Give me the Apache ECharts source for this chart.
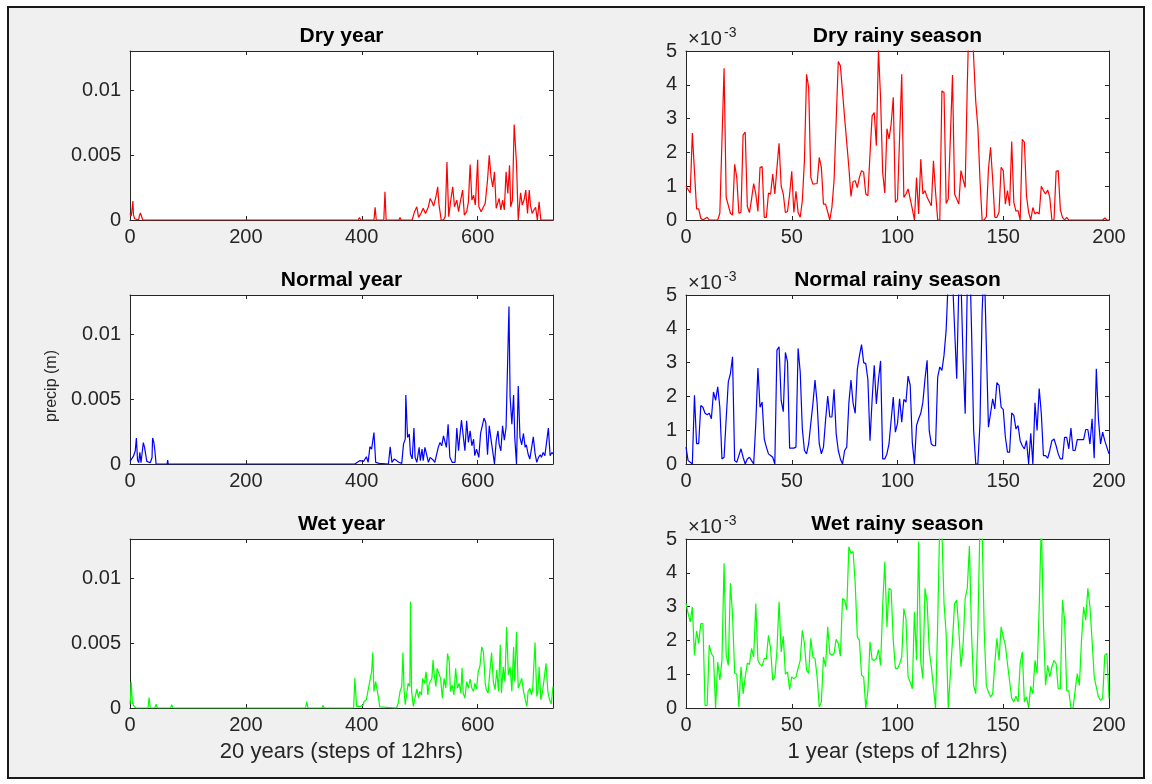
<!DOCTYPE html>
<html>
<head>
<meta charset="utf-8"/>
<title>precip</title>
<script src="https://cdn.jsdelivr.net/npm/echarts@6/dist/echarts.min.js"></script>
<style>
body { margin: 0; background: #fff; }
#chart { width: 1152px; height: 784px; }
</style>
</head>
<body>
<div id="chart"></div>
<script type="text/javascript">

// [step, precip] pairs; left panels in 1e-3 m, right panels in units of 1e-3 (axis shows x10^-3)
var dryYear = [[0,0.5],[2,0.3],[3,0.6],[5,1.45],[6,0.4],[8,0.1],[10,0],[15,0],[16,0.3],[18,0.54],[20,0.4],[22,0],
  [390,0],[392,0.1],[394,0],[396,0.2],[398,0],[421,0],[423,0.97],[425,0],[438,0],[440,2.17],[442,0],[464,0],[466,0.2],[468,0],
  [487,0],[491,0.64],[495,1.02],[498,0.2],[502,0.5],[506,0.9],[510,0.5],[515,1.02],[518,1.66],[521,1.4],[524,1.07],[528,1.79],
  [531,2.55],[533,1.28],[537,0],[541,0],[544,0.26],[547,4.46],[550,0.26],[554,1.66],[557,2.55],[560,1.02],[564,1.53],[567,0.64],
  [570,1.4],[574,2.3],[577,0.38],[581,0.64],[584,1.4],[587,4.26],[590,1.53],[593,1.9],[596,1.15],[600,4.64],[602,1.02],[606,0.64],
  [610,1.02],[613,1.28],[617,3.06],[620,4.97],[623,3.32],[626,2.55],[629,3.7],[632,0.9],[634,0.77],[637,1.66],[640,0.77],[643,1.53],
  [646,0.77],[649,3.7],[652,2.04],[655,4.21],[657,1.02],[660,1.53],[663,7.35],[667,4.34],[670,0],[674,2.09],[677,1.15],[680,1.53],
  [683,2.3],[686,0.5],[689,2.3],[691,1.15],[694,0.5],[697,0.77],[700,0.97],[703,0],[706,1.4],[709,0],[730,0]];

var normalYear = [[0,0.2],[3,0.1],[6,0.6],[9,1.0],[11,2.0],[13,0.3],[15,0.1],[17,0.9],[19,0.1],[21,0.2],[23,1.65],[25,1.3],
  [27,1.4],[29,0.2],[32,0.1],[35,0.1],[38,0.5],[39,2.0],[41,1.7],[43,1.0],[45,0],[64,0],[65,0.3],[66,0],
  [388,0],[391,0.05],[397,0.26],[403,0.2],[408,0.56],[411,0.13],[414,1.33],[417,1.15],[421,2.42],[424,0.13],[430,0.05],[446,0],
  [449,1.33],[452,0.13],[456,0.38],[460,0.26],[464,0.13],[469,0.05],[472,1.53],[475,1.91],[476,5.31],[479,2.04],[482,2.3],[484,0.77],
  [487,0.38],[490,2.76],[492,0.51],[495,0.13],[499,1.28],[501,0.26],[504,1.15],[506,0.26],[509,1.28],[512,1.15],[515,0.13],[518,0.51],
  [521,0.64],[523,0.31],[526,0.13],[529,0.13],[532,1.28],[535,1.66],[538,1.4],[541,2.17],[544,2.3],[546,1.28],[549,3.06],[552,0.51],
  [556,0.13],[561,0.13],[564,2.76],[567,1.02],[569,2.04],[572,3.37],[575,3.27],[578,1.02],[581,3.32],[584,1.66],[587,2.55],[590,1.4],
  [593,1.91],[595,0.64],[598,1.15],[602,0.51],[605,2.35],[608,2.3],[611,3.52],[614,3.19],[617,0.71],[620,2.93],[623,1.91],[626,1.79],
  [629,0],[632,1.79],[635,2.55],[637,1.53],[640,1.02],[643,2.93],[646,1.84],[649,2.81],[651,2.68],[654,12.12],[656,5.15],[659,3.06],
  [662,5.31],[664,2.04],[667,0],[670,6.0],[673,2.04],[676,1.48],[679,2.35],[682,1.28],[684,1.48],[687,0.77],[690,0.38],[693,0.38],
  [696,2.09],[699,0.82],[702,0.13],[705,0.51],[708,0.71],[710,0.51],[713,0.89],[716,0.64],[719,0.51],[722,2.76],[725,0.64],[728,0.89],[730,0.77]];

var wetYear = [[0,0.3],[1,0.8],[2,2.0],[3,1.3],[4,0.3],[5,0.5],[6,0.2],[8,0.1],[10,0],[31,0],[33,0.8],[35,0],[43,0],[45,0.3],[47,0],
  [70,0],[72,0.25],[74,0],[303,0],[305,0.5],[307,0],[331,0],[333,0.2],[335,0],[386,0],[388,2.3],[391,0.13],[397,0.13],[402,0.2],
  [404,0.5],[408,0.64],[411,1.4],[414,1.27],[417,2.79],[419,4.26],[421,1.27],[424,2.03],[426,2.08],[429,0.76],[431,0.08],[434,0.05],
  [460,0],[463,0.38],[466,1.27],[469,1.65],[471,4.26],[473,1.4],[475,0.25],[478,1.27],[480,1.9],[483,1.65],[484,8.17],[486,1.27],
  [489,0.13],[492,0.25],[495,1.47],[498,0.76],[500,1.27],[503,1.0],[505,2.28],[508,1.9],[511,2.79],[514,1.0],[516,1.78],[518,2.03],
  [521,2.28],[523,3.68],[525,2.54],[528,1.65],[530,3.05],[533,2.92],[536,2.28],[539,0.76],[542,2.28],[545,1.52],[548,4.19],[551,3.55],
  [553,1.27],[556,1.78],[559,1.0],[562,3.05],[565,1.52],[568,1.9],[571,1.14],[573,3.1],[575,1.14],[578,0.76],[581,2.03],[584,1.52],
  [587,2.23],[590,1.52],[593,1.27],[595,1.9],[598,1.47],[601,2.79],[604,3.25],[607,4.7],[610,4.31],[613,1.9],[615,1.4],[618,1.14],
  [621,2.79],[624,4.26],[627,2.03],[630,1.4],[633,2.92],[636,1.27],[639,4.87],[641,1.14],[644,3.17],[647,2.03],[650,6.22],[653,2.54],
  [656,3.17],[659,1.27],[662,4.7],[664,2.03],[667,5.84],[670,1.52],[673,1.47],[676,2.28],[679,1.32],[682,0.64],[685,0.13],[687,1.27],
  [690,1.52],[693,1.0],[695,1.52],[699,5.03],[702,0.89],[704,1.27],[706,3.17],[709,0.63],[712,1.27],[715,1.27],[718,3.43],[721,1.32],
  [724,0.63],[727,0.3],[730,1.65]];

var dryRainy = [[0,1.0],[2,0.8],[3,2.57],[5,0.33],[6,0.33],[7,0.05],[8,0],[10,0.08],[11,0],[15,0],[16,0.2],[18,4.49],[19,0.67],
  [21,0.2],[22,0.15],[23,1.65],[24,1.26],[25,0.2],[26,0.23],[27,2.52],[28,2.6],[29,0.4],[30,0.22],[31,0.62],[32,1.08],[33,0.77],
  [34,0.25],[35,1.55],[36,1.58],[37,0.08],[38,0.08],[39,0.8],[40,0.76],[41,1.36],[42,0.77],[43,1.55],[44,2.27],[45,1.0],[46,0.77],
  [47,0.22],[48,0.25],[49,0.77],[50,1.44],[51,0.22],[52,0.85],[53,0.22],[54,0.08],[55,0.57],[56,1.77],[57,4.31],[58,3.92],[59,1.26],
  [60,1.06],[62,1.08],[63,1.85],[64,1.56],[65,0.47],[66,0.47],[68,0],[69,0.38],[70,1.16],[72,4.69],[73,4.56],[75,3.03],[77,1.56],
  [78,0.7],[79,1.14],[80,1.16],[81,0.96],[82,1.26],[83,1.46],[84,1.41],[85,0.77],[86,0.72],[87,1.95],[88,3.08],[89,3.18],[90,2.2],
  [91,5.05],[92,3.6],[93,1.4],[94,0.8],[95,2.7],[96,2.4],[97,2.84],[98,3.63],[99,0.52],[100,0.6],[102,4.31],[103,0.67],[104,0.77],
  [105,0.92],[107,0.33],[108,0],[109,1.26],[110,0.18],[111,1.8],[112,0.77],[113,0.87],[114,0.67],[116,0.42],[117,1.75],[118,0.82],
  [119,0],[120,0],[121,3.82],[122,3.77],[123,0.49],[124,0.62],[126,4.29],[127,0.77],[129,0.47],[130,1.46],[131,1.2],[132,0.96],
  [133,4.0],[134,6.5],[135,6.5],[136,4.8],[137,3.5],[138,2.74],[139,1.2],[140,0],[141,0],[142,0.1],[143,1.5],[144,2.15],[145,1.2],
  [146,0.08],[147,0.08],[148,0.23],[149,1.56],[150,1.46],[151,0.47],[152,0.87],[153,0.42],[154,2.32],[155,0.52],[156,0.26],[157,0.28],
  [158,0],[159,2.39],[160,2.3],[161,0.7],[162,0.23],[163,0],[164,0.37],[165,0.18],[166,0.23],[167,0.18],[168,1.0],[169,0.87],
  [170,0.77],[171,0.89],[172,0.67],[173,0],[174,0],[175,1.44],[176,1.46],[177,0.3],[178,0.08],[179,0],[180,0.08],[181,0],[197,0],
  [198,0.06],[199,0],[200,0]];

var normalRainy = [[0,0.5],[1,0.1],[2,0.05],[3,0],[4,2.03],[5,0.6],[6,0.6],[7,1.73],[8,1.68],[9,1.5],[10,1.46],[11,1.5],[12,1.34],
  [13,2.13],[14,1.88],[15,2.28],[16,1.68],[17,0.15],[18,0.2],[19,1.34],[20,2.43],[21,2.67],[22,3.17],[23,0.1],[24,0.05],[26,0.45],
  [27,0.2],[28,0],[29,0.15],[30,0.2],[31,0.1],[32,0],[33,1.2],[34,2.84],[35,1.68],[36,1.83],[37,0.74],[38,0.5],[39,0.3],[40,0.25],
  [41,0.2],[42,0],[43,3.37],[44,3.47],[45,1.88],[46,1.55],[47,3.3],[48,3.02],[49,0.47],[51,0.47],[52,0.5],[53,3.42],[54,2.72],
  [55,1.04],[56,0.4],[57,0.3],[58,0.6],[59,1.2],[60,1.78],[61,2.48],[62,1.8],[63,0.6],[64,0.3],[65,0.5],[66,1.3],[67,2.01],[68,1.39],
  [69,1.39],[70,2.21],[71,0.9],[72,0.4],[73,0.15],[74,0],[75,0.4],[76,0.5],[77,1.8],[78,2.48],[79,1.8],[80,1.5],[81,2.8],[82,3.2],
  [83,3.53],[84,3.0],[85,2.97],[86,2.5],[87,0.69],[88,1.9],[89,2.92],[90,1.78],[91,2.5],[92,3.05],[93,0.15],[94,0.15],[95,0.3],
  [96,0.6],[97,1.3],[98,1.98],[99,0.94],[100,1.2],[101,1.93],[102,1.24],[103,1.91],[104,1.83],[105,2.6],[106,2.33],[107,0.64],[108,0],
  [109,1.14],[110,1.34],[111,1.5],[112,1.83],[113,2.52],[114,3.07],[115,0.99],[116,0.59],[117,0.54],[118,0.54],[119,2.57],[120,2.87],
  [121,2.77],[122,3.22],[123,3.96],[124,5.5],[125,6.5],[126,5.5],[127,4.0],[128,2.52],[129,5.3],[130,5.5],[131,3.12],[132,1.49],
  [133,5.3],[134,6.5],[135,4.0],[136,1.0],[137,0],[138,0],[139,1.2],[140,4.5],[141,6.0],[142,3.5],[143,1.09],[144,1.5],[145,1.93],
  [146,1.63],[147,2.41],[148,2.33],[149,1.68],[150,1.61],[151,0.8],[152,0.35],[153,0.35],[154,1.51],[155,1.44],[156,1.04],[157,1.14],
  [158,0.69],[159,0.54],[160,0.45],[161,0.69],[162,0],[163,0.91],[164,0],[165,1.81],[166,0.99],[167,2.23],[168,1.49],[169,0.25],
  [170,0.25],[171,0.17],[172,0.4],[173,0.69],[174,0.74],[175,0.54],[176,0.3],[177,0.15],[178,0.15],[179,0.79],[180,0.79],[181,0.45],
  [182,1.06],[183,0.4],[184,0.4],[185,0.72],[187,0.72],[188,0.72],[189,1.02],[190,1.02],[191,0.59],[192,1.34],[193,0.17],[194,2.82],
  [195,1.34],[196,0.59],[197,0.94],[198,0.69],[200,0.3]];

var wetRainy = [[0,3.1],[1,2.8],[2,2.55],[3,2.99],[4,1.56],[5,2.28],[6,1.91],[7,2.5],[8,2.5],[9,0.08],[10,0.08],[11,1.86],[12,1.61],
  [13,1.51],[14,0],[15,1.36],[16,0.82],[17,1.41],[18,4.28],[19,1.56],[20,1.26],[21,3.69],[22,2.75],[23,1.04],[24,1.0],[25,0.03],
  [26,1.22],[27,0.42],[28,0.92],[29,1.33],[30,1.29],[31,1.76],[32,1.51],[33,3.09],[34,1.41],[35,1.29],[36,1.24],[37,1.46],[38,1.46],
  [39,2.15],[40,1.76],[41,0.82],[42,0.92],[43,1.71],[44,3.14],[45,1.66],[46,2.12],[47,1.0],[48,1.07],[49,0.54],[50,0.92],[51,0.87],
  [52,0.92],[53,1.17],[54,1.41],[55,2.3],[56,1.91],[57,1.12],[58,1.02],[59,2.06],[60,1.51],[61,1.46],[62,0.92],[63,0.03],[64,0.18],
  [65,1.51],[66,1.22],[67,2.4],[68,1.61],[69,1.56],[70,1.61],[71,2.03],[72,1.91],[73,1.53],[74,3.24],[75,3.19],[76,2.9],[77,4.77],
  [78,4.58],[79,4.63],[80,3.69],[81,2.1],[82,2.0],[83,0.97],[84,0.92],[85,0],[86,0.5],[87,1.96],[88,1.43],[89,1.41],[90,1.46],
  [91,1.73],[92,1.26],[93,3.04],[94,4.33],[95,2.4],[96,3.54],[97,3.49],[98,2.0],[99,1.17],[100,1.17],[101,1.3],[102,1.51],[103,2.94],
  [104,2.65],[105,0.92],[106,0.77],[107,0.57],[108,2.85],[109,1.41],[110,4.92],[111,1.36],[112,0.87],[113,3.54],[114,3.14],[115,1.71],
  [116,1.22],[117,0.6],[118,0],[119,2.5],[120,5.6],[121,5.2],[122,3.09],[123,2.2],[124,0],[125,1.0],[126,2.0],[127,3.09],[128,3.19],
  [129,2.3],[130,1.22],[131,1.86],[132,3.24],[133,3.54],[134,4.79],[135,2.2],[136,0.67],[137,0.42],[138,2.3],[139,5.5],[140,5.3],
  [141,2.3],[142,0.67],[143,0.47],[144,0.33],[145,0.41],[146,1.31],[147,2.06],[148,1.41],[149,2.4],[150,2.1],[151,1.86],[152,1.31],
  [153,0.8],[154,0.28],[155,0.18],[156,0.35],[157,0.18],[158,1.31],[159,1.66],[160,0.18],[161,0.33],[162,0],[163,0.64],[164,0.42],
  [165,1.41],[166,1.02],[167,3.0],[168,5.5],[169,2.5],[170,0.67],[171,1.26],[172,0.92],[173,1.22],[174,1.41],[175,1.31],[176,0.57],
  [177,0.57],[178,3.19],[179,2.6],[180,0.52],[181,0.5],[182,0],[183,0],[184,0.52],[185,1.02],[186,0.67],[187,2.0],[188,2.99],
  [189,2.6],[190,3.54],[191,2.99],[192,2.0],[193,0.92],[194,0.62],[195,0.33],[196,0.23],[197,0.28],[198,1.56],[199,1.61],[200,0.28]];

var titles = ['Dry year', 'Dry rainy season', 'Normal year', 'Normal rainy season', 'Wet year', 'Wet rainy season'];
var leftXTicks = [0, 200, 400, 600];
var rightXTicks = [0, 50, 100, 150, 200];
var leftYTicks = [0, 0.005, 0.01];
var rightYTicks = [0, 1, 2, 3, 4, 5];
var xNames = ['20 years (steps of 12hrs)', '1 year (steps of 12hrs)'];
var yName = 'precip (m)';

var panels = [dryYear, dryRainy, normalYear, normalRainy, wetYear, wetRainy];
var colors = ['#ff0000', '#ff0000', '#0000ff', '#0000ff', '#00ff00', '#00ff00'];

var font = 'Liberation Sans, Arial, sans-serif';
var axisColor = '#262626';
var colLeft = [130, 686];
var rowTop = [51, 295, 539];
var plotW = 423, plotH = 169;

var grids = [], xAxes = [], yAxes = [], series = [], graphics = [];

graphics.push({
    type: 'rect', z: -10,
    shape: { x: 8, y: 7, width: 1136, height: 771 },
    style: { fill: '#f0f0f0', stroke: '#1a1a1a', lineWidth: 2 }
});

for (var i = 0; i < 6; i++) {
    var row = Math.floor(i / 2), col = i % 2;
    var isLeft = col === 0;
    grids.push({ left: colLeft[col], top: rowTop[row], width: plotW, height: plotH,
        show: true, backgroundColor: '#fff', borderWidth: 0 });

    var xTicks = isLeft ? leftXTicks : rightXTicks;
    var yTicks = isLeft ? leftYTicks : rightYTicks;
    for (var m = 0; m < 2; m++) {
        var mirror = m === 1;
        xAxes.push({
            type: 'value', gridIndex: i, position: mirror ? 'top' : 'bottom',
            min: 0, max: isLeft ? 730 : 200,
            splitLine: { show: false },
            axisLine: { show: true, onZero: false, lineStyle: { color: axisColor, width: 1 } },
            axisTick: { show: true, inside: true, length: 4, customValues: xTicks, lineStyle: { color: axisColor } },
            axisLabel: { show: !mirror, customValues: xTicks, margin: 7, fontSize: 20, color: axisColor, fontFamily: font }
        });
        yAxes.push({
            type: 'value', gridIndex: i, position: mirror ? 'right' : 'left',
            min: 0, max: isLeft ? 0.013 : 5,
            splitLine: { show: false },
            axisLine: { show: true, onZero: false, lineStyle: { color: axisColor, width: 1 } },
            axisTick: { show: true, inside: true, length: 4, customValues: yTicks, lineStyle: { color: axisColor } },
            axisLabel: { show: !mirror, customValues: yTicks, margin: 9, fontSize: 20, color: axisColor, fontFamily: font,
                formatter: function (v) { return v === 0 ? '0' : String(+v.toFixed(4)); } }
        });
    }

    var pts = panels[i];
    series.push({
        type: 'line', xAxisIndex: i * 2, yAxisIndex: i * 2,
        data: isLeft ? pts.map(function (p) { return [p[0], p[1] / 1000]; }) : pts,
        showSymbol: false, symbol: 'none', clip: true, animation: false,
        lineStyle: { color: colors[i], width: 1.2 }
    });

    var cx = colLeft[col] + plotW / 2;
    graphics.push({
        type: 'text', x: cx, y: rowTop[row] - 15,
        style: { text: titles[i], align: 'center', verticalAlign: 'middle', fill: '#000',
            font: 'bold 21px ' + font }
    });
    if (!isLeft) {
        graphics.push({ type: 'text', x: colLeft[col] + 2, y: rowTop[row] - 12,
            style: { text: '\u00d710', align: 'left', verticalAlign: 'middle', fill: axisColor, font: '20px ' + font } });
        graphics.push({ type: 'text', x: colLeft[col] + 38, y: rowTop[row] - 18,
            style: { text: '-3', align: 'left', verticalAlign: 'middle', fill: axisColor, font: '14px ' + font } });
    }
    if (row === 2) {
        graphics.push({ type: 'text', x: cx, y: 752,
            style: { text: xNames[col], align: 'center', verticalAlign: 'middle', fill: axisColor, font: '22px ' + font } });
    }
}

graphics.push({
    type: 'text', x: 52, y: 386, rotation: Math.PI / 2,
    style: { text: yName, align: 'center', verticalAlign: 'middle', fill: axisColor, font: '16px ' + font }
});

var chart = echarts.init(document.getElementById('chart'));
chart.setOption({
    animation: false,
    grid: grids,
    xAxis: xAxes,
    yAxis: yAxes,
    series: series,
    graphic: { elements: graphics }
});

</script>
</body>
</html>
